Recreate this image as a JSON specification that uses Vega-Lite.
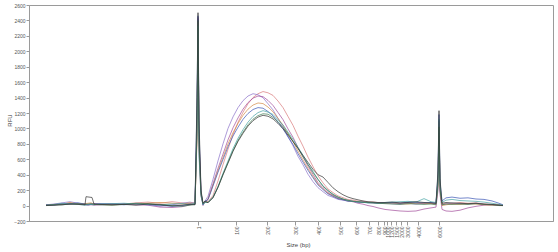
{
"$schema":"https://vega.github.io/schema/vega-lite/v6.json",
"autosize":{"type":"none"},
"padding":{"left":29,"top":5,"right":5,"bottom":31},
"width":524,"height":216,
"background":"white",
"config":{"font":"Liberation Sans","view":{"stroke":"#9a9a9a","strokeWidth":1},"axis":{"labelOverlap":false,"labelFlush":false}},
"datasets":{"traces":[
{"s":"S1","t":17,"v":5},{"s":"S1","t":25,"v":15},{"s":"S1","t":33,"v":25},{"s":"S1","t":41,"v":30},{"s":"S1","t":49,"v":20},{"s":"S1","t":56,"v":15},{"s":"S1","t":59,"v":18},{"s":"S1","t":62,"v":20},{"s":"S1","t":65,"v":15},{"s":"S1","t":71,"v":20},{"s":"S1","t":83,"v":25},{"s":"S1","t":95,"v":20},{"s":"S1","t":107,"v":35},{"s":"S1","t":119,"v":45},{"s":"S1","t":131,"v":30},{"s":"S1","t":143,"v":50},{"s":"S1","t":153,"v":35},{"s":"S1","t":161,"v":25},{"s":"S1","t":166,"v":40},
{"s":"S1","t":168,"v":900},{"s":"S1","t":169,"v":2350},{"s":"S1","t":170,"v":800},{"s":"S1","t":172,"v":150},{"s":"S1","t":174,"v":30},{"s":"S1","t":176,"v":40},
{"s":"S1","t":179,"v":50},{"s":"S1","t":184,"v":130},{"s":"S1","t":189,"v":320},{"s":"S1","t":194,"v":530},{"s":"S1","t":199,"v":730},{"s":"S1","t":204,"v":920},{"s":"S1","t":209,"v":1080},{"s":"S1","t":214,"v":1210},{"s":"S1","t":219,"v":1320},{"s":"S1","t":224,"v":1400},{"s":"S1","t":229,"v":1450},{"s":"S1","t":234,"v":1478},{"s":"S1","t":239,"v":1462},{"s":"S1","t":244,"v":1428},{"s":"S1","t":249,"v":1355},{"s":"S1","t":254,"v":1270},{"s":"S1","t":259,"v":1155},{"s":"S1","t":264,"v":1040},{"s":"S1","t":269,"v":900},{"s":"S1","t":274,"v":770},{"s":"S1","t":279,"v":628},{"s":"S1","t":284,"v":505},{"s":"S1","t":289,"v":385},{"s":"S1","t":294,"v":295},{"s":"S1","t":299,"v":215},{"s":"S1","t":304,"v":168},{"s":"S1","t":309,"v":125},{"s":"S1","t":314,"v":102},{"s":"S1","t":319,"v":78},{"s":"S1","t":324,"v":70},{"s":"S1","t":329,"v":58},{"s":"S1","t":334,"v":57},{"s":"S1","t":339,"v":45},{"s":"S1","t":344,"v":47},{"s":"S1","t":349,"v":38},
{"s":"S1","t":356,"v":40},{"s":"S1","t":363,"v":35},{"s":"S1","t":371,"v":30},{"s":"S1","t":379,"v":40},{"s":"S1","t":387,"v":30},{"s":"S1","t":395,"v":25},{"s":"S1","t":402,"v":30},{"s":"S1","t":407,"v":20},{"s":"S1","t":409,"v":300},{"s":"S1","t":410,"v":1050},{"s":"S1","t":411,"v":250},{"s":"S1","t":413,"v":20},{"s":"S1","t":417,"v":30},{"s":"S1","t":423,"v":25},{"s":"S1","t":431,"v":40},{"s":"S1","t":439,"v":30},{"s":"S1","t":447,"v":35},{"s":"S1","t":455,"v":20},{"s":"S1","t":463,"v":15},{"s":"S1","t":470,"v":10},{"s":"S1","t":474,"v":5},

{"s":"S2","t":17,"v":10},{"s":"S2","t":25,"v":20},{"s":"S2","t":33,"v":35},{"s":"S2","t":41,"v":50},{"s":"S2","t":49,"v":30},{"s":"S2","t":56,"v":20},{"s":"S2","t":59,"v":15},{"s":"S2","t":62,"v":20},{"s":"S2","t":65,"v":25},{"s":"S2","t":71,"v":15},{"s":"S2","t":83,"v":20},{"s":"S2","t":95,"v":25},{"s":"S2","t":107,"v":15},{"s":"S2","t":119,"v":20},{"s":"S2","t":131,"v":-10},{"s":"S2","t":143,"v":10},{"s":"S2","t":153,"v":30},{"s":"S2","t":161,"v":45},{"s":"S2","t":166,"v":30},
{"s":"S2","t":168,"v":1100},{"s":"S2","t":169,"v":2420},{"s":"S2","t":170,"v":700},{"s":"S2","t":172,"v":120},{"s":"S2","t":174,"v":10},{"s":"S2","t":176,"v":60},
{"s":"S2","t":179,"v":120},{"s":"S2","t":184,"v":340},{"s":"S2","t":189,"v":580},{"s":"S2","t":194,"v":800},{"s":"S2","t":199,"v":1000},{"s":"S2","t":204,"v":1150},{"s":"S2","t":209,"v":1270},{"s":"S2","t":214,"v":1360},{"s":"S2","t":219,"v":1420},{"s":"S2","t":224,"v":1450},{"s":"S2","t":229,"v":1436},{"s":"S2","t":234,"v":1398},{"s":"S2","t":239,"v":1320},{"s":"S2","t":244,"v":1240},{"s":"S2","t":249,"v":1131},{"s":"S2","t":254,"v":1022},{"s":"S2","t":259,"v":899},{"s":"S2","t":264,"v":775},{"s":"S2","t":269,"v":638},{"s":"S2","t":274,"v":528},{"s":"S2","t":279,"v":406},{"s":"S2","t":284,"v":310},{"s":"S2","t":289,"v":232},{"s":"S2","t":294,"v":180},{"s":"S2","t":299,"v":131},{"s":"S2","t":304,"v":108},{"s":"S2","t":309,"v":80},{"s":"S2","t":314,"v":70},{"s":"S2","t":319,"v":58},{"s":"S2","t":324,"v":55},{"s":"S2","t":329,"v":44},{"s":"S2","t":334,"v":47},{"s":"S2","t":339,"v":36},{"s":"S2","t":344,"v":38},{"s":"S2","t":349,"v":29},
{"s":"S2","t":356,"v":30},{"s":"S2","t":363,"v":25},{"s":"S2","t":371,"v":20},{"s":"S2","t":379,"v":30},{"s":"S2","t":387,"v":20},{"s":"S2","t":395,"v":30},{"s":"S2","t":402,"v":35},{"s":"S2","t":407,"v":25},{"s":"S2","t":409,"v":350},{"s":"S2","t":410,"v":1100},{"s":"S2","t":411,"v":200},{"s":"S2","t":413,"v":10},{"s":"S2","t":417,"v":20},{"s":"S2","t":423,"v":30},{"s":"S2","t":431,"v":25},{"s":"S2","t":439,"v":20},{"s":"S2","t":447,"v":30},{"s":"S2","t":455,"v":15},{"s":"S2","t":463,"v":10},{"s":"S2","t":470,"v":5},{"s":"S2","t":474,"v":0},

{"s":"S3","t":17,"v":0},{"s":"S3","t":25,"v":10},{"s":"S3","t":33,"v":20},{"s":"S3","t":41,"v":15},{"s":"S3","t":49,"v":25},{"s":"S3","t":56,"v":10},{"s":"S3","t":59,"v":5},{"s":"S3","t":62,"v":10},{"s":"S3","t":65,"v":5},{"s":"S3","t":71,"v":10},{"s":"S3","t":83,"v":15},{"s":"S3","t":95,"v":20},{"s":"S3","t":107,"v":10},{"s":"S3","t":119,"v":5},{"s":"S3","t":131,"v":-20},{"s":"S3","t":143,"v":-25},{"s":"S3","t":153,"v":-15},{"s":"S3","t":161,"v":10},{"s":"S3","t":166,"v":20},
{"s":"S3","t":168,"v":1000},{"s":"S3","t":169,"v":2440},{"s":"S3","t":170,"v":900},{"s":"S3","t":172,"v":180},{"s":"S3","t":174,"v":0},{"s":"S3","t":176,"v":50},
{"s":"S3","t":179,"v":85},{"s":"S3","t":184,"v":284},{"s":"S3","t":189,"v":483},{"s":"S3","t":194,"v":667},{"s":"S3","t":199,"v":852},{"s":"S3","t":204,"v":1008},{"s":"S3","t":209,"v":1136},{"s":"S3","t":214,"v":1250},{"s":"S3","t":219,"v":1335},{"s":"S3","t":224,"v":1392},{"s":"S3","t":229,"v":1420},{"s":"S3","t":234,"v":1412},{"s":"S3","t":239,"v":1363},{"s":"S3","t":244,"v":1298},{"s":"S3","t":249,"v":1207},{"s":"S3","t":254,"v":1114},{"s":"S3","t":259,"v":994},{"s":"S3","t":264,"v":886},{"s":"S3","t":269,"v":753},{"s":"S3","t":274,"v":630},{"s":"S3","t":279,"v":511},{"s":"S3","t":284,"v":404},{"s":"S3","t":289,"v":298},{"s":"S3","t":294,"v":232},{"s":"S3","t":299,"v":170},{"s":"S3","t":304,"v":133},{"s":"S3","t":309,"v":99},{"s":"S3","t":314,"v":82},{"s":"S3","t":319,"v":64},{"s":"S3","t":324,"v":49},{"s":"S3","t":329,"v":30},{"s":"S3","t":334,"v":18},{"s":"S3","t":339,"v":0},{"s":"S3","t":344,"v":-12},{"s":"S3","t":349,"v":-30},
{"s":"S3","t":356,"v":-50},{"s":"S3","t":363,"v":-60},{"s":"S3","t":371,"v":-70},{"s":"S3","t":379,"v":-75},{"s":"S3","t":387,"v":-70},{"s":"S3","t":395,"v":-45},{"s":"S3","t":402,"v":-30},{"s":"S3","t":407,"v":-20},{"s":"S3","t":409,"v":200},{"s":"S3","t":410,"v":1000},{"s":"S3","t":411,"v":150},{"s":"S3","t":413,"v":-50},{"s":"S3","t":417,"v":-70},{"s":"S3","t":423,"v":-75},{"s":"S3","t":431,"v":-60},{"s":"S3","t":439,"v":-30},{"s":"S3","t":447,"v":-10},{"s":"S3","t":455,"v":5},{"s":"S3","t":463,"v":10},{"s":"S3","t":470,"v":5},{"s":"S3","t":474,"v":0},

{"s":"S4","t":17,"v":5},{"s":"S4","t":25,"v":10},{"s":"S4","t":33,"v":15},{"s":"S4","t":41,"v":40},{"s":"S4","t":49,"v":20},{"s":"S4","t":56,"v":25},{"s":"S4","t":59,"v":30},{"s":"S4","t":62,"v":35},{"s":"S4","t":65,"v":20},{"s":"S4","t":71,"v":15},{"s":"S4","t":83,"v":10},{"s":"S4","t":95,"v":15},{"s":"S4","t":107,"v":20},{"s":"S4","t":119,"v":30},{"s":"S4","t":131,"v":40},{"s":"S4","t":143,"v":30},{"s":"S4","t":153,"v":20},{"s":"S4","t":161,"v":35},{"s":"S4","t":166,"v":25},
{"s":"S4","t":168,"v":850},{"s":"S4","t":169,"v":2380},{"s":"S4","t":170,"v":750},{"s":"S4","t":172,"v":140},{"s":"S4","t":174,"v":20},{"s":"S4","t":176,"v":45},
{"s":"S4","t":179,"v":80},{"s":"S4","t":184,"v":266},{"s":"S4","t":189,"v":452},{"s":"S4","t":194,"v":625},{"s":"S4","t":199,"v":798},{"s":"S4","t":204,"v":944},{"s":"S4","t":209,"v":1064},{"s":"S4","t":214,"v":1170},{"s":"S4","t":219,"v":1250},{"s":"S4","t":224,"v":1303},{"s":"S4","t":229,"v":1330},{"s":"S4","t":234,"v":1322},{"s":"S4","t":239,"v":1277},{"s":"S4","t":244,"v":1216},{"s":"S4","t":249,"v":1131},{"s":"S4","t":254,"v":1042},{"s":"S4","t":259,"v":931},{"s":"S4","t":264,"v":830},{"s":"S4","t":269,"v":705},{"s":"S4","t":274,"v":590},{"s":"S4","t":279,"v":479},{"s":"S4","t":284,"v":378},{"s":"S4","t":289,"v":279},{"s":"S4","t":294,"v":218},{"s":"S4","t":299,"v":160},{"s":"S4","t":304,"v":125},{"s":"S4","t":309,"v":93},{"s":"S4","t":314,"v":78},{"s":"S4","t":319,"v":60},{"s":"S4","t":324,"v":57},{"s":"S4","t":329,"v":47},{"s":"S4","t":334,"v":44},{"s":"S4","t":339,"v":40},{"s":"S4","t":344,"v":36},{"s":"S4","t":349,"v":33},
{"s":"S4","t":356,"v":30},{"s":"S4","t":363,"v":35},{"s":"S4","t":371,"v":25},{"s":"S4","t":379,"v":20},{"s":"S4","t":387,"v":35},{"s":"S4","t":395,"v":30},{"s":"S4","t":402,"v":25},{"s":"S4","t":407,"v":20},{"s":"S4","t":409,"v":280},{"s":"S4","t":410,"v":1080},{"s":"S4","t":411,"v":220},{"s":"S4","t":413,"v":0},{"s":"S4","t":417,"v":10},{"s":"S4","t":423,"v":20},{"s":"S4","t":431,"v":15},{"s":"S4","t":439,"v":25},{"s":"S4","t":447,"v":20},{"s":"S4","t":455,"v":10},{"s":"S4","t":463,"v":5},{"s":"S4","t":470,"v":10},{"s":"S4","t":474,"v":0},

{"s":"S5","t":17,"v":10},{"s":"S5","t":25,"v":5},{"s":"S5","t":33,"v":20},{"s":"S5","t":41,"v":25},{"s":"S5","t":49,"v":35},{"s":"S5","t":56,"v":20},{"s":"S5","t":59,"v":10},{"s":"S5","t":62,"v":15},{"s":"S5","t":65,"v":20},{"s":"S5","t":71,"v":25},{"s":"S5","t":83,"v":20},{"s":"S5","t":95,"v":10},{"s":"S5","t":107,"v":25},{"s":"S5","t":119,"v":10},{"s":"S5","t":131,"v":5},{"s":"S5","t":143,"v":-10},{"s":"S5","t":153,"v":0},{"s":"S5","t":161,"v":20},{"s":"S5","t":166,"v":15},
{"s":"S5","t":168,"v":1300},{"s":"S5","t":169,"v":2460},{"s":"S5","t":170,"v":1000},{"s":"S5","t":172,"v":170},{"s":"S5","t":174,"v":15},{"s":"S5","t":176,"v":55},
{"s":"S5","t":179,"v":76},{"s":"S5","t":184,"v":254},{"s":"S5","t":189,"v":432},{"s":"S5","t":194,"v":597},{"s":"S5","t":199,"v":762},{"s":"S5","t":204,"v":902},{"s":"S5","t":209,"v":1016},{"s":"S5","t":214,"v":1118},{"s":"S5","t":219,"v":1194},{"s":"S5","t":224,"v":1245},{"s":"S5","t":229,"v":1270},{"s":"S5","t":234,"v":1262},{"s":"S5","t":239,"v":1219},{"s":"S5","t":244,"v":1162},{"s":"S5","t":249,"v":1080},{"s":"S5","t":254,"v":996},{"s":"S5","t":259,"v":889},{"s":"S5","t":264,"v":792},{"s":"S5","t":269,"v":673},{"s":"S5","t":274,"v":564},{"s":"S5","t":279,"v":457},{"s":"S5","t":284,"v":361},{"s":"S5","t":289,"v":267},{"s":"S5","t":294,"v":208},{"s":"S5","t":299,"v":152},{"s":"S5","t":304,"v":119},{"s":"S5","t":309,"v":89},{"s":"S5","t":314,"v":74},{"s":"S5","t":319,"v":57},{"s":"S5","t":324,"v":55},{"s":"S5","t":329,"v":44},{"s":"S5","t":334,"v":42},{"s":"S5","t":339,"v":38},{"s":"S5","t":344,"v":35},{"s":"S5","t":349,"v":32},
{"s":"S5","t":356,"v":35},{"s":"S5","t":363,"v":40},{"s":"S5","t":371,"v":30},{"s":"S5","t":379,"v":45},{"s":"S5","t":387,"v":40},{"s":"S5","t":395,"v":35},{"s":"S5","t":402,"v":40},{"s":"S5","t":407,"v":30},{"s":"S5","t":409,"v":400},{"s":"S5","t":410,"v":1180},{"s":"S5","t":411,"v":300},{"s":"S5","t":413,"v":60},{"s":"S5","t":417,"v":100},{"s":"S5","t":423,"v":110},{"s":"S5","t":431,"v":95},{"s":"S5","t":439,"v":100},{"s":"S5","t":447,"v":85},{"s":"S5","t":455,"v":80},{"s":"S5","t":463,"v":60},{"s":"S5","t":470,"v":30},{"s":"S5","t":474,"v":10},

{"s":"S6","t":17,"v":0},{"s":"S6","t":25,"v":15},{"s":"S6","t":33,"v":30},{"s":"S6","t":41,"v":20},{"s":"S6","t":49,"v":15},{"s":"S6","t":56,"v":5},{"s":"S6","t":59,"v":10},{"s":"S6","t":62,"v":15},{"s":"S6","t":65,"v":10},{"s":"S6","t":71,"v":20},{"s":"S6","t":83,"v":25},{"s":"S6","t":95,"v":30},{"s":"S6","t":107,"v":20},{"s":"S6","t":119,"v":15},{"s":"S6","t":131,"v":10},{"s":"S6","t":143,"v":20},{"s":"S6","t":153,"v":25},{"s":"S6","t":161,"v":15},{"s":"S6","t":166,"v":30},
{"s":"S6","t":168,"v":950},{"s":"S6","t":169,"v":2330},{"s":"S6","t":170,"v":650},{"s":"S6","t":172,"v":130},{"s":"S6","t":174,"v":10},{"s":"S6","t":176,"v":40},
{"s":"S6","t":179,"v":40},{"s":"S6","t":184,"v":110},{"s":"S6","t":189,"v":250},{"s":"S6","t":194,"v":418},{"s":"S6","t":199,"v":578},{"s":"S6","t":204,"v":738},{"s":"S6","t":209,"v":873},{"s":"S6","t":214,"v":984},{"s":"S6","t":219,"v":1082},{"s":"S6","t":224,"v":1156},{"s":"S6","t":229,"v":1205},{"s":"S6","t":234,"v":1230},{"s":"S6","t":239,"v":1212},{"s":"S6","t":244,"v":1181},{"s":"S6","t":249,"v":1112},{"s":"S6","t":254,"v":1046},{"s":"S6","t":259,"v":952},{"s":"S6","t":264,"v":861},{"s":"S6","t":269,"v":756},{"s":"S6","t":274,"v":652},{"s":"S6","t":279,"v":534},{"s":"S6","t":284,"v":443},{"s":"S6","t":289,"v":338},{"s":"S6","t":294,"v":258},{"s":"S6","t":299,"v":190},{"s":"S6","t":304,"v":148},{"s":"S6","t":309,"v":106},{"s":"S6","t":314,"v":86},{"s":"S6","t":319,"v":64},{"s":"S6","t":324,"v":55},{"s":"S6","t":329,"v":45},{"s":"S6","t":334,"v":43},{"s":"S6","t":339,"v":34},{"s":"S6","t":344,"v":37},{"s":"S6","t":349,"v":31},
{"s":"S6","t":356,"v":40},{"s":"S6","t":363,"v":45},{"s":"S6","t":371,"v":50},{"s":"S6","t":379,"v":55},{"s":"S6","t":387,"v":45},{"s":"S6","t":395,"v":90},{"s":"S6","t":402,"v":50},{"s":"S6","t":407,"v":40},{"s":"S6","t":409,"v":320},{"s":"S6","t":410,"v":1120},{"s":"S6","t":411,"v":260},{"s":"S6","t":413,"v":40},{"s":"S6","t":417,"v":70},{"s":"S6","t":423,"v":80},{"s":"S6","t":431,"v":65},{"s":"S6","t":439,"v":60},{"s":"S6","t":447,"v":55},{"s":"S6","t":455,"v":45},{"s":"S6","t":463,"v":30},{"s":"S6","t":470,"v":15},{"s":"S6","t":474,"v":5},

{"s":"S7","t":17,"v":5},{"s":"S7","t":25,"v":10},{"s":"S7","t":33,"v":10},{"s":"S7","t":41,"v":20},{"s":"S7","t":49,"v":25},{"s":"S7","t":56,"v":15},{"s":"S7","t":59,"v":20},{"s":"S7","t":62,"v":25},{"s":"S7","t":65,"v":15},{"s":"S7","t":71,"v":10},{"s":"S7","t":83,"v":5},{"s":"S7","t":95,"v":15},{"s":"S7","t":107,"v":30},{"s":"S7","t":119,"v":25},{"s":"S7","t":131,"v":15},{"s":"S7","t":143,"v":0},{"s":"S7","t":153,"v":-10},{"s":"S7","t":161,"v":5},{"s":"S7","t":166,"v":15},
{"s":"S7","t":168,"v":1000},{"s":"S7","t":169,"v":2400},{"s":"S7","t":170,"v":850},{"s":"S7","t":172,"v":160},{"s":"S7","t":174,"v":25},{"s":"S7","t":176,"v":50},
{"s":"S7","t":179,"v":40},{"s":"S7","t":184,"v":105},{"s":"S7","t":189,"v":240},{"s":"S7","t":194,"v":405},{"s":"S7","t":199,"v":559},{"s":"S7","t":204,"v":714},{"s":"S7","t":209,"v":845},{"s":"S7","t":214,"v":952},{"s":"S7","t":219,"v":1047},{"s":"S7","t":224,"v":1119},{"s":"S7","t":229,"v":1166},{"s":"S7","t":234,"v":1190},{"s":"S7","t":239,"v":1184},{"s":"S7","t":244,"v":1142},{"s":"S7","t":249,"v":1089},{"s":"S7","t":254,"v":1012},{"s":"S7","t":259,"v":934},{"s":"S7","t":264,"v":833},{"s":"S7","t":269,"v":744},{"s":"S7","t":274,"v":631},{"s":"S7","t":279,"v":530},{"s":"S7","t":284,"v":428},{"s":"S7","t":289,"v":339},{"s":"S7","t":294,"v":250},{"s":"S7","t":299,"v":196},{"s":"S7","t":304,"v":143},{"s":"S7","t":309,"v":112},{"s":"S7","t":314,"v":83},{"s":"S7","t":319,"v":70},{"s":"S7","t":324,"v":54},{"s":"S7","t":329,"v":52},{"s":"S7","t":334,"v":42},{"s":"S7","t":339,"v":40},{"s":"S7","t":344,"v":36},{"s":"S7","t":349,"v":30},
{"s":"S7","t":356,"v":25},{"s":"S7","t":363,"v":20},{"s":"S7","t":371,"v":15},{"s":"S7","t":379,"v":25},{"s":"S7","t":387,"v":20},{"s":"S7","t":395,"v":15},{"s":"S7","t":402,"v":20},{"s":"S7","t":407,"v":10},{"s":"S7","t":409,"v":260},{"s":"S7","t":410,"v":1020},{"s":"S7","t":411,"v":200},{"s":"S7","t":413,"v":10},{"s":"S7","t":417,"v":20},{"s":"S7","t":423,"v":15},{"s":"S7","t":431,"v":20},{"s":"S7","t":439,"v":15},{"s":"S7","t":447,"v":25},{"s":"S7","t":455,"v":15},{"s":"S7","t":463,"v":10},{"s":"S7","t":470,"v":0},{"s":"S7","t":474,"v":0},

{"s":"S8","t":17,"v":0},{"s":"S8","t":25,"v":5},{"s":"S8","t":33,"v":10},{"s":"S8","t":41,"v":20},{"s":"S8","t":49,"v":15},{"s":"S8","t":56,"v":10},{"s":"S8","t":57,"v":115},{"s":"S8","t":60,"v":110},{"s":"S8","t":63,"v":105},{"s":"S8","t":65,"v":20},{"s":"S8","t":71,"v":15},{"s":"S8","t":83,"v":10},{"s":"S8","t":95,"v":15},{"s":"S8","t":107,"v":5},{"s":"S8","t":119,"v":20},{"s":"S8","t":131,"v":10},{"s":"S8","t":143,"v":-5},{"s":"S8","t":153,"v":5},{"s":"S8","t":161,"v":15},{"s":"S8","t":166,"v":10},
{"s":"S8","t":168,"v":1400},{"s":"S8","t":169,"v":2500},{"s":"S8","t":170,"v":1100},{"s":"S8","t":172,"v":200},{"s":"S8","t":174,"v":30},{"s":"S8","t":176,"v":60},
{"s":"S8","t":179,"v":38},{"s":"S8","t":184,"v":100},{"s":"S8","t":189,"v":236},{"s":"S8","t":194,"v":398},{"s":"S8","t":199,"v":550},{"s":"S8","t":204,"v":702},{"s":"S8","t":209,"v":831},{"s":"S8","t":214,"v":936},{"s":"S8","t":219,"v":1030},{"s":"S8","t":224,"v":1100},{"s":"S8","t":229,"v":1147},{"s":"S8","t":234,"v":1170},{"s":"S8","t":239,"v":1158},{"s":"S8","t":244,"v":1123},{"s":"S8","t":249,"v":1065},{"s":"S8","t":254,"v":995},{"s":"S8","t":259,"v":913},{"s":"S8","t":264,"v":830},{"s":"S8","t":269,"v":740},{"s":"S8","t":274,"v":650},{"s":"S8","t":279,"v":560},{"s":"S8","t":284,"v":470},{"s":"S8","t":289,"v":400},{"s":"S8","t":294,"v":370},{"s":"S8","t":299,"v":300},{"s":"S8","t":304,"v":230},{"s":"S8","t":309,"v":180},{"s":"S8","t":314,"v":140},{"s":"S8","t":319,"v":110},{"s":"S8","t":324,"v":90},{"s":"S8","t":329,"v":75},{"s":"S8","t":334,"v":60},{"s":"S8","t":339,"v":50},{"s":"S8","t":344,"v":45},{"s":"S8","t":349,"v":40},
{"s":"S8","t":356,"v":40},{"s":"S8","t":363,"v":45},{"s":"S8","t":371,"v":35},{"s":"S8","t":379,"v":40},{"s":"S8","t":387,"v":50},{"s":"S8","t":395,"v":40},{"s":"S8","t":402,"v":35},{"s":"S8","t":407,"v":30},{"s":"S8","t":409,"v":450},{"s":"S8","t":410,"v":1230},{"s":"S8","t":411,"v":350},{"s":"S8","t":413,"v":30},{"s":"S8","t":417,"v":40},{"s":"S8","t":423,"v":35},{"s":"S8","t":431,"v":30},{"s":"S8","t":439,"v":25},{"s":"S8","t":447,"v":30},{"s":"S8","t":455,"v":20},{"s":"S8","t":463,"v":15},{"s":"S8","t":470,"v":5},{"s":"S8","t":474,"v":0}
]},
"layer":[
{"mark":{"type":"rule","color":"#a0a0a0","strokeWidth":1},
 "encoding":{"y":{"datum":0,"type":"quantitative","scale":{"domain":[-200,2600],"nice":false},
   "axis":{"title":"RFU","values":[-200,0,200,400,600,800,1000,1200,1400,1600,1800,2000,2200,2400,2600],"format":"d",
    "labelFontSize":5,"labelColor":"#555","labelOverlap":false,"labelFlush":false,"tickSize":3,"tickColor":"#999","domainColor":"#9a9a9a","grid":false,"labelPadding":1,
    "titleFontSize":6,"titleFontWeight":"normal","titleColor":"#444","titleAngle":-90,"titleX":-20,"titleY":115,"titleAlign":"center","titleBaseline":"middle"}}}},
{"data":{"name":"traces"},
 "mark":{"type":"line","strokeWidth":0.7,"interpolate":"linear"},
 "encoding":{
  "x":{"field":"t","type":"quantitative","scale":{"domain":[0,524],"nice":false,"zero":false},
   "axis":{"title":"Size (bp)","values":[169,207,238,266,289,311,327,340,349,355,358,362,367,372,378,389,410],
    "labelExpr":"['1','100','200','300','400','500','600','700','800','900','1000','1200','1500','2000','3000','4000','6000'][indexof([169,207,238,266,289,311,327,340,349,355,358,362,367,372,378,389,410], datum.value)]",
    "labelAngle":-90,"labelAlign":"right","labelBaseline":"middle","labelFontSize":5,"labelColor":"#555","labelOverlap":false,"labelFlush":false,"labelPadding":1,
    "tickSize":4,"tickColor":"#999","domainColor":"#9a9a9a","grid":false,
    "titleFontSize":6,"titleFontWeight":"normal","titleColor":"#444","titleX":269,"titleY":20,"titleBaseline":"top"}},
  "y":{"field":"v","type":"quantitative","scale":{"domain":[-200,2600],"nice":false},
   "axis":{"title":"RFU","values":[-200,0,200,400,600,800,1000,1200,1400,1600,1800,2000,2200,2400,2600],"format":"d",
    "labelFontSize":5,"labelColor":"#555","labelOverlap":false,"labelFlush":false,"tickSize":3,"tickColor":"#999","domainColor":"#9a9a9a","grid":false,"labelPadding":1,
    "titleFontSize":6,"titleFontWeight":"normal","titleColor":"#444","titleAngle":-90,"titleX":-20,"titleY":115,"titleAlign":"center","titleBaseline":"middle"}},
  "color":{"field":"s","type":"nominal","legend":null,
   "scale":{"domain":["S1","S2","S3","S4","S5","S6","S7","S8"],"range":["#d9797a","#8a70c8","#a04a9a","#d38a45","#3a55b5","#45a3a3","#3d7a50","#333333"]}}
 }}
]
}
